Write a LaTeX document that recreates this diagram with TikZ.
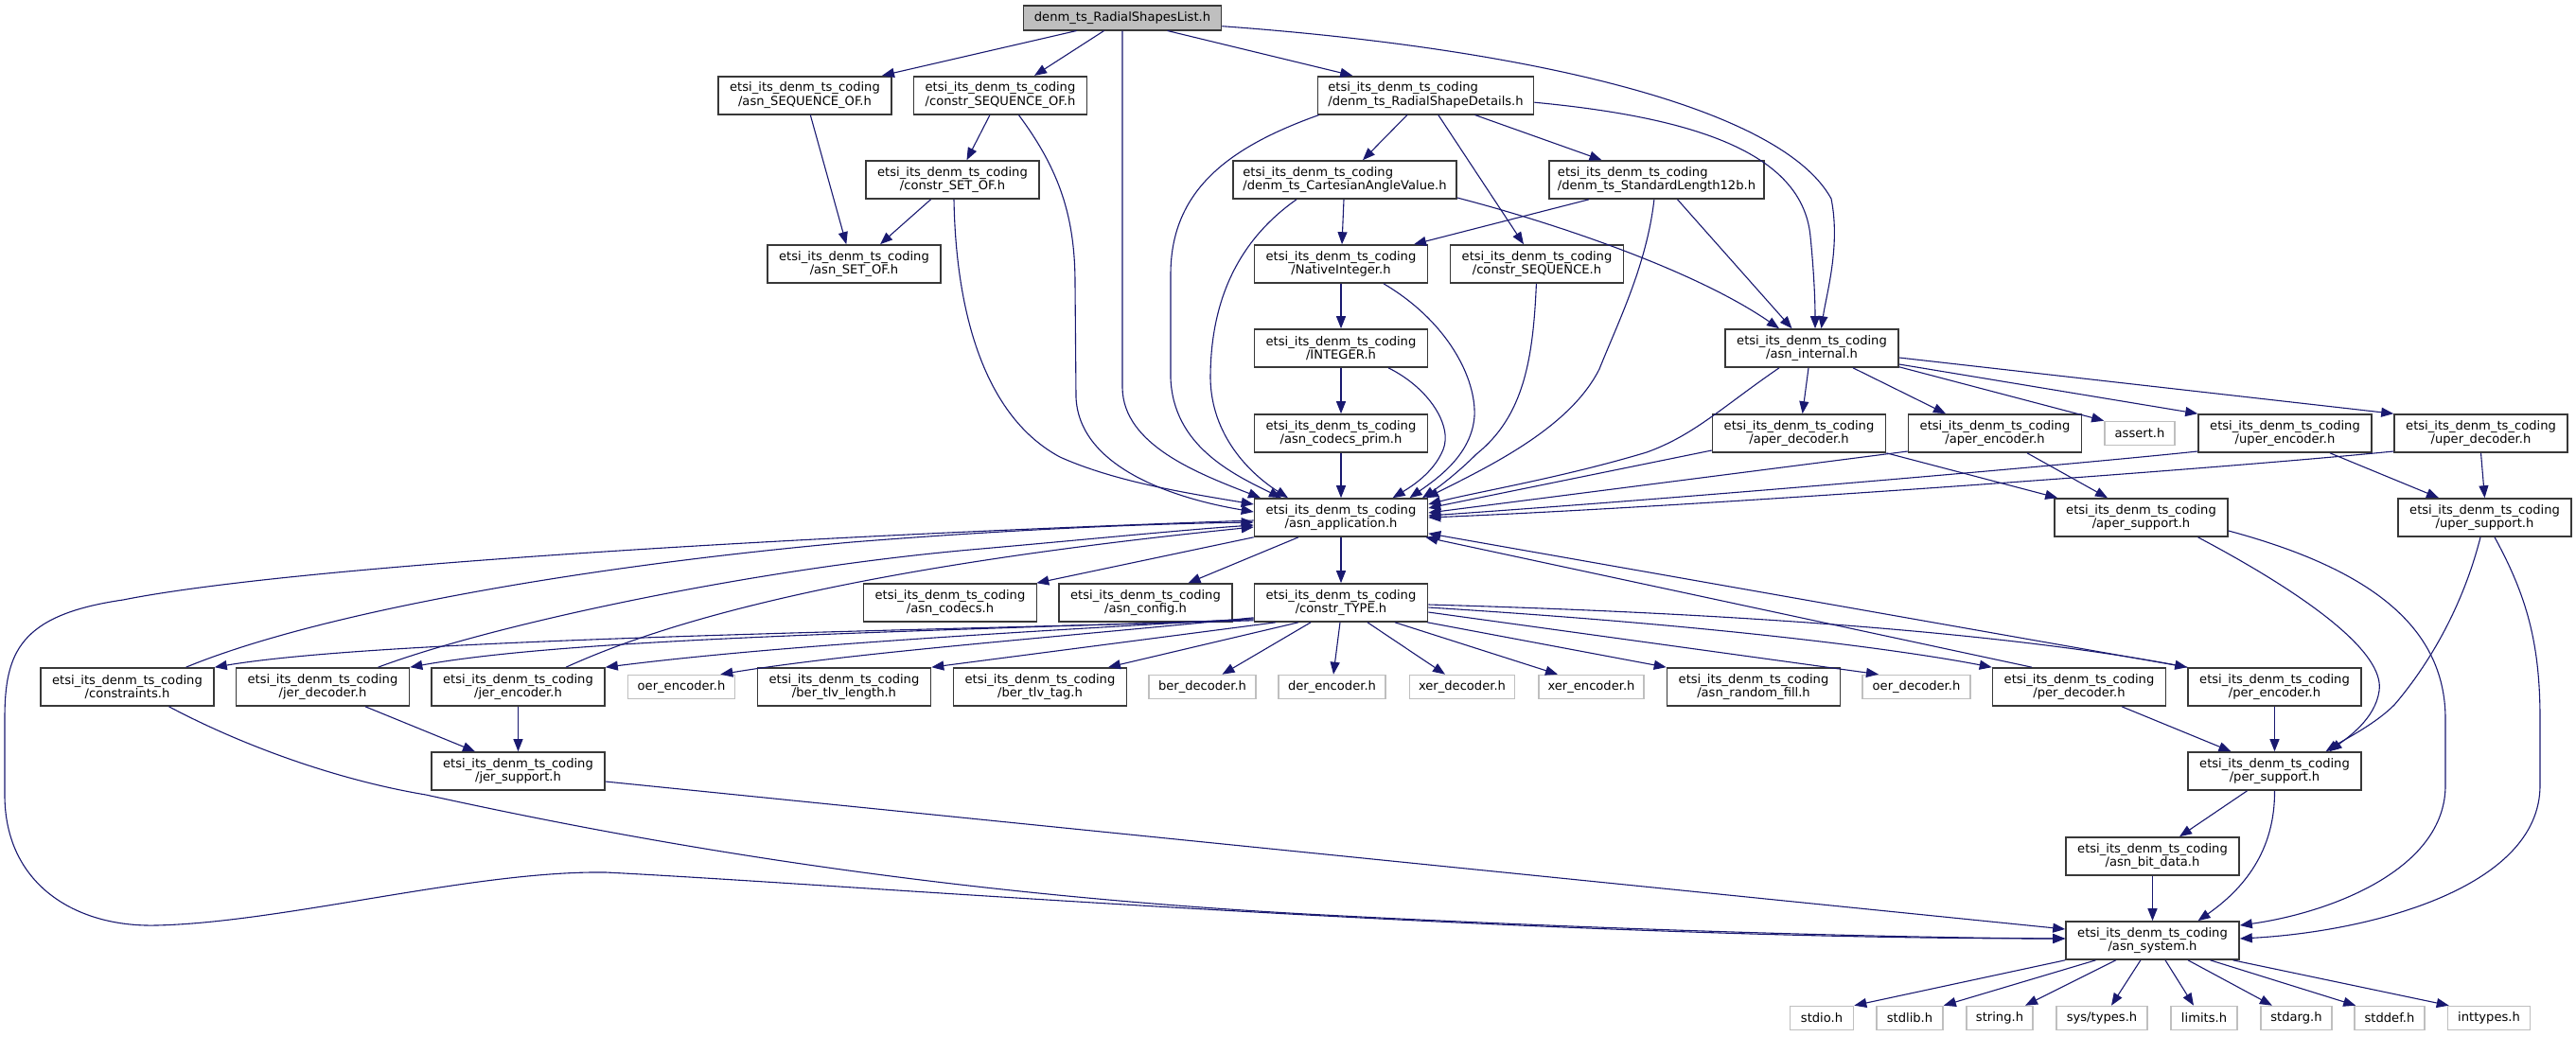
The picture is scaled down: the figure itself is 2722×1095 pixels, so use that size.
\documentclass[tikz,border=0pt]{standalone}
\usepackage{fontspec}
\setmainfont{DejaVu Sans}
\usetikzlibrary{arrows.meta}
\definecolor{edgec}{HTML}{191970}
\definecolor{bordc}{HTML}{383838}
\definecolor{grayc}{HTML}{BFBFBF}
\definecolor{titlec}{HTML}{BFBFBF}
\newcommand\nodefont{\fontsize{13.1pt}{14.7pt}\selectfont}
\newcommand\pre{etsi\_its\_denm\_ts\_coding}
\tikzset{
  box/.style={draw=bordc, line width=1.6pt, fill=white, minimum width=183pt, minimum height=40pt, inner sep=0pt, align=center, font=\nodefont},
  lbox/.style={box, align=left},
  gbox/.style={draw=grayc, line width=1.6pt, fill=white, minimum height=25pt, inner sep=0pt, font=\nodefont},
  tbox/.style={draw=bordc, fill=titlec, line width=1.6pt, minimum height=26pt, inner sep=0pt, font=\nodefont},
  edge/.style={draw=edgec, line width=1.1pt, -{Triangle[length=13pt,width=10pt]}},
}
\begin{document}
\begin{tikzpicture}[x=1pt,y=-1pt]
\useasboundingbox (0,0) rectangle (2722,1095);
% nodes
\node[tbox, minimum width=209pt] (T) at (1186,18.7) {denm\_ts\_RadialShapesList.h};
\node[box] (aSO) at (850.5,100.7) {\pre\\/asn\_SEQUENCE\_OF.h};
\node[box] (cSO) at (1057,100.7) {\pre\\/constr\_SEQUENCE\_OF.h};
\node[lbox, minimum width=228pt] (RSD) at (1506.5,100.7) {\pre\\/denm\_ts\_RadialShapeDetails.h};
\node[box] (cSET) at (1006.5,190) {\pre\\/constr\_SET\_OF.h};
\node[lbox, minimum width=236pt] (CAV) at (1421,190) {\pre\\/denm\_ts\_CartesianAngleValue.h};
\node[lbox, minimum width=227pt] (SL) at (1750.5,190) {\pre\\/denm\_ts\_StandardLength12b.h};
\node[box] (aSET) at (902.5,279) {\pre\\/asn\_SET\_OF.h};
\node[box] (NI) at (1417,279) {\pre\\/NativeInteger.h};
\node[box] (cSEQ) at (1624,279) {\pre\\/constr\_SEQUENCE.h};
\node[box] (INT) at (1417,368) {\pre\\/INTEGER.h};
\node[box] (aint) at (1914.5,368) {\pre\\/asn\_internal.h};
\node[box] (acp) at (1417,458) {\pre\\/asn\_codecs\_prim.h};
\node[box] (apd) at (1901,458) {\pre\\/aper\_decoder.h};
\node[box] (ape) at (2108,458) {\pre\\/aper\_encoder.h};
\node[gbox, minimum width=74pt] (assert) at (2261,458) {assert.h};
\node[box] (upe) at (2414.5,458) {\pre\\/uper\_encoder.h};
\node[box] (upd) at (2621.5,458) {\pre\\/uper\_decoder.h};
\node[box] (AA) at (1417,547) {\pre\\/asn\_application.h};
\node[box] (aps) at (2262.5,547) {\pre\\/aper\_support.h};
\node[box] (ups) at (2625.5,547) {\pre\\/uper\_support.h};
\node[box] (acod) at (1004,637) {\pre\\/asn\_codecs.h};
\node[box] (acfg) at (1210.5,637) {\pre\\/asn\_config.h};
\node[box] (CT) at (1417,637) {\pre\\/constr\_TYPE.h};
\node[box] (cons) at (134.5,726) {\pre\\/constraints.h};
\node[box] (jdec) at (341,726) {\pre\\/jer\_decoder.h};
\node[box] (jenc) at (547.5,726) {\pre\\/jer\_encoder.h};
\node[gbox, minimum width=113pt] (oenc) at (720,726) {oer\_encoder.h};
\node[box] (btl) at (892,726) {\pre\\/ber\_tlv\_length.h};
\node[box] (btt) at (1099,726) {\pre\\/ber\_tlv\_tag.h};
\node[gbox, minimum width=113pt] (bdec) at (1270.5,726) {ber\_decoder.h};
\node[gbox, minimum width=113pt] (denc) at (1407.5,726) {der\_encoder.h};
\node[gbox, minimum width=111pt] (xdec) at (1545,726) {xer\_decoder.h};
\node[gbox, minimum width=111pt] (xenc) at (1681.5,726) {xer\_encoder.h};
\node[box] (arf) at (1853,726) {\pre\\/asn\_random\_fill.h};
\node[gbox, minimum width=114pt] (odec) at (2025,726) {oer\_decoder.h};
\node[box] (pdec) at (2197,726) {\pre\\/per\_decoder.h};
\node[box] (penc) at (2403.5,726) {\pre\\/per\_encoder.h};
\node[box] (jsup) at (547.5,815) {\pre\\/jer\_support.h};
\node[box] (psup) at (2403.5,815) {\pre\\/per\_support.h};
\node[box] (abd) at (2274.5,905) {\pre\\/asn\_bit\_data.h};
\node[box] (asys) at (2274.5,994) {\pre\\/asn\_system.h};
\node[gbox, minimum width=67pt] (stdio) at (1925,1076) {stdio.h};
\node[gbox, minimum width=70pt] (stdlib) at (2018,1076) {stdlib.h};
\node[gbox, minimum width=70pt] (string) at (2113,1076) {string.h};
\node[gbox, minimum width=96pt] (systypes) at (2221,1076) {sys/types.h};
\node[gbox, minimum width=70pt] (limits) at (2329,1076) {limits.h};
\node[gbox, minimum width=75pt] (stdarg) at (2426.5,1076) {stdarg.h};
\node[gbox, minimum width=74pt] (stddef) at (2525,1076) {stddef.h};
\node[gbox, minimum width=87pt] (inttypes) at (2630,1076) {inttypes.h};
% edges from title
\draw[edge] ([xshift=-48.4pt]T.south) -- ([xshift=81.5pt]aSO.north);
\draw[edge] ([xshift=-19.4pt]T.south) -- ([xshift=36pt]cSO.north);
\draw[edge] (T.south) -- (1186,410) .. controls (1187,470) and (1265,500) .. ([xshift=-85pt]AA.north);
\draw[edge] ([xshift=47.6pt]T.south) -- ([xshift=-77.3pt]RSD.north);
\draw[edge] ([yshift=-9pt]T.east) .. controls (1600,50) and (1880,110) .. (1935,210) .. controls (1945,260) and (1930,310) .. ([xshift=10pt]aint.north);
% SEQUENCE_OF / SET_OF
\draw[edge] ([xshift=5.8pt]aSO.south) -- ([xshift=-8.2pt]aSET.north);
\draw[edge] ([xshift=-11pt]cSO.south) -- ([xshift=15pt]cSET.north);
\draw[edge] ([xshift=-23pt]cSET.south) -- ([xshift=27.5pt]aSET.north);
\draw[edge] ([xshift=1.5pt]cSET.south) .. controls (1010,330) and (1040,440) .. (1120,483) .. controls (1180,510) and (1260,522) .. ([yshift=14pt]AA.west);
\draw[edge] ([xshift=19.4pt]cSO.south) .. controls (1120,180) and (1136,230) .. (1136,300) -- (1137,420) .. controls (1140,490) and (1230,525) .. ([yshift=6pt]AA.west);
% RadialShapeDetails
\draw[edge] ([xshift=2pt]RSD.south west) .. controls (1300,155) and (1237,200) .. (1237,290) -- (1237,400) .. controls (1240,470) and (1300,500) .. ([xshift=-63pt]AA.north);
\draw[edge] ([xshift=-19.5pt]RSD.south) -- ([xshift=19pt]CAV.north);
\draw[edge] ([xshift=13.3pt]RSD.south) -- ([xshift=-14pt]cSEQ.north);
\draw[edge] ([xshift=52pt]RSD.south) -- ([xshift=-58pt]SL.north);
\draw[edge] ([yshift=-7.5pt]RSD.east) .. controls (1800,125) and (1905,165) .. (1913,250) .. controls (1917,290) and (1918,320) .. ([xshift=3.5pt]aint.north);
% CartesianAngleValue
\draw[edge] ([xshift=-1pt]CAV.south) -- ([xshift=1pt]NI.north);
\draw[edge] ([xshift=-51pt]CAV.south) .. controls (1300,260) and (1279,330) .. (1279,400) .. controls (1280,460) and (1320,500) .. ([xshift=-56pt]AA.north);
\draw[edge] ([yshift=-19pt]CAV.east) .. controls (1640,235) and (1790,285) .. ([xshift=-34.5pt]aint.north);
% StandardLength12b
\draw[edge] ([xshift=-71.5pt]SL.south) -- ([xshift=77pt]NI.north);
\draw[edge] ([xshift=-2.6pt]SL.south) .. controls (1740,280) and (1710,340) .. (1690,390) .. controls (1660,450) and (1580,490) .. ([xshift=90pt]AA.north);
\draw[edge] ([xshift=22pt]SL.south) -- ([xshift=-21pt]aint.north);
% NativeInteger, INTEGER, codecs_prim, constr_SEQUENCE
\draw[edge] (NI.south) -- (INT.north);
\draw[edge] ([xshift=45pt]NI.south) .. controls (1530,340) and (1560,400) .. (1558,440) .. controls (1555,480) and (1520,505) .. ([xshift=72.5pt]AA.north);
\draw[edge] (INT.south) -- (acp.north);
\draw[edge] ([xshift=50pt]INT.south) .. controls (1510,410) and (1535,450) .. (1525,475) .. controls (1515,500) and (1490,515) .. ([xshift=54.6pt]AA.north);
\draw[edge] (acp.south) -- (AA.north);
\draw[edge] ([xshift=-0.6pt]cSEQ.south) .. controls (1620,380) and (1610,440) .. (1560,480) .. controls (1540,500) and (1520,515) .. ([xshift=86pt]AA.north);
% asn_internal
\draw[edge] ([xshift=-34.5pt]aint.south) .. controls (1820,430) and (1790,460) .. (1740,478) .. controls (1650,505) and (1560,520) .. ([yshift=14pt]AA.east);
\draw[edge] ([xshift=-3.5pt]aint.south) -- ([xshift=3.6pt]apd.north);
\draw[edge] ([xshift=43.5pt]aint.south) -- ([xshift=-52pt]ape.north);
\draw[edge] ([yshift=1pt]aint.south east) -- (assert.north west);
\draw[edge] ([yshift=-17pt]aint.east) -- (upe.north west);
\draw[edge] ([yshift=-10pt]aint.east) -- (upd.north west);
% aper / uper
\draw[edge] ([yshift=-18pt]apd.west) -- ([yshift=10pt]AA.east);
\draw[edge] (apd.south east) -- ([xshift=4pt]aps.north west);
\draw[edge] ([yshift=-19pt]ape.west) -- ([yshift=5pt]AA.east);
\draw[edge] ([xshift=34pt]ape.south) -- ([xshift=-35.5pt]aps.north);
\draw[edge] ([yshift=-19pt]upe.west) .. controls (2200,490) and (1800,525) .. ([yshift=2pt]AA.east);
\draw[edge] ([yshift=-19pt]upd.west) .. controls (2350,495) and (1800,535) .. (AA.east);
\draw[edge] ([xshift=47.5pt]upe.south) -- ([xshift=-48.5pt]ups.north);
\draw[edge] (upd.south) -- (ups.north);
% supports
\draw[edge] ([xshift=60pt]aps.south) .. controls (2440,630) and (2520,690) .. (2514,730) .. controls (2510,760) and (2480,780) .. ([xshift=58pt]psup.north);
\draw[edge] ([yshift=-14pt]aps.east) .. controls (2500,600) and (2584,660) .. (2584,760) -- (2584,830) .. controls (2584,920) and (2460,965) .. ([yshift=16pt]asys.east);
\draw[edge] ([xshift=-4.5pt]ups.south) .. controls (2600,650) and (2560,710) .. (2530,745) .. controls (2510,765) and (2480,780) .. ([xshift=54pt]psup.north);
\draw[edge] ([xshift=10.5pt]ups.south) .. controls (2670,630) and (2684,680) .. (2684,760) -- (2684,830) .. controls (2684,940) and (2500,985) .. ([yshift=2pt]asys.east);
\draw[edge] ([xshift=45pt]pdec.south) -- ([xshift=-46pt]psup.north);
\draw[edge] (penc.south) -- (psup.north);
\draw[edge] ([xshift=-29pt]psup.south) -- ([xshift=28.5pt]abd.north);
\draw[edge] (psup.south) .. controls (2404,900) and (2370,940) .. ([xshift=48pt]asys.north);
\draw[edge] (abd.south) -- (asys.north);
% asn_system to std headers
\draw[edge] (asys.south west) -- (stdio.north east);
\draw[edge] ([xshift=-60pt]asys.south) -- (stdlib.north east);
\draw[edge] ([xshift=-38.7pt]asys.south) -- ([xshift=27pt]string.north);
\draw[edge] ([xshift=-12.6pt]asys.south) -- ([xshift=10pt]systypes.north);
\draw[edge] ([xshift=13.5pt]asys.south) -- ([xshift=-11pt]limits.north);
\draw[edge] ([xshift=37.5pt]asys.south) -- ([xshift=-25.6pt]stdarg.north);
\draw[edge] ([xshift=61pt]asys.south) -- ([xshift=2pt]stddef.north west);
\draw[edge] ([xshift=85pt]asys.south) -- ([xshift=2pt]inttypes.north west);
% jer
\draw[edge] ([xshift=45pt]jdec.south) -- ([xshift=-45.5pt]jsup.north);
\draw[edge] (jenc.south) -- (jsup.north);
\draw[edge] ([yshift=-11pt]jsup.east) -- ([yshift=12pt]asys.west);
\draw[edge] ([xshift=44pt]cons.south) .. controls (260,790) and (360,825) .. (450,840) .. controls (700,895) and (1000,945) .. (1380,966) .. controls (1700,983) and (2000,991) .. ([yshift=2pt]asys.west);
% big loop asn_application -> asn_system
\draw[edge] ([yshift=-3pt]AA.west) .. controls (800,568) and (300,600) .. (130,634) .. controls (20,650) and (5,690) .. (5,760) -- (5,840) .. controls (5,935) and (80,980) .. (165,978) .. controls (300,975) and (500,920) .. (640,922) .. controls (900,935) and (1600,992) .. ([yshift=2pt]asys.west);
% back edges to asn_application
\draw[edge] ([xshift=62pt]cons.north) .. controls (330,650) and (600,600) .. (900,573) .. controls (1100,557) and (1250,553) .. ([yshift=-5pt]AA.west);
\draw[edge] ([xshift=58.5pt]jdec.north) .. controls (520,660) and (800,600) .. (1037,580) .. controls (1150,570) and (1250,560) .. ([yshift=-8pt]AA.west);
\draw[edge] ([xshift=50.5pt]jenc.north) .. controls (730,645) and (950,595) .. ([yshift=-10pt]AA.west);
\draw[edge] ([xshift=-50pt]pdec.north) -- ([xshift=-3pt]AA.south east);
\draw[edge] (penc.north west) -- ([yshift=4pt]AA.south east);
% asn_application outgoing
\draw[edge] (AA.south west) -- ([xshift=-1pt]acod.north east);
\draw[edge] ([xshift=-45pt]AA.south) -- ([xshift=45pt]acfg.north);
\draw[edge] (AA.south) -- (CT.north);
% constr_TYPE outgoing
\draw[edge] ([yshift=2pt]CT.south west) .. controls (900,668) and (400,676) .. (cons.north east);
\draw[edge] ([yshift=3pt]CT.south west) .. controls (950,668) and (600,675) .. (jdec.north east);
\draw[edge] ([yshift=4pt]CT.south west) .. controls (1000,672) and (800,685) .. (jenc.north east);
\draw[edge] ([yshift=5pt]CT.south west) .. controls (1100,675) and (900,690) .. ([xshift=-16pt]oenc.north east);
\draw[edge] ([xshift=-69pt]CT.south) -- (btl.north east);
\draw[edge] ([xshift=-45pt]CT.south) -- ([xshift=72pt]btt.north);
\draw[edge] ([xshift=-32pt]CT.south) -- ([xshift=21pt]bdec.north);
\draw[edge] ([xshift=-1pt]CT.south) -- ([xshift=1.5pt]denc.north);
\draw[edge] ([xshift=28pt]CT.south) -- ([xshift=-18pt]xdec.north);
\draw[edge] ([xshift=57pt]CT.south) -- ([xshift=-35.5pt]xenc.north);
\draw[edge] ([xshift=-1pt]CT.south east) -- (arf.north west);
\draw[edge] ([yshift=-10pt]CT.east) -- ([xshift=-40pt]odec.north);
\draw[edge] ([yshift=-5pt]CT.east) .. controls (1800,660) and (2000,685) .. (pdec.north west);
\draw[edge] ([yshift=-2pt]CT.east) .. controls (1900,650) and (2150,675) .. (penc.north west);
\end{tikzpicture}
\end{document}
